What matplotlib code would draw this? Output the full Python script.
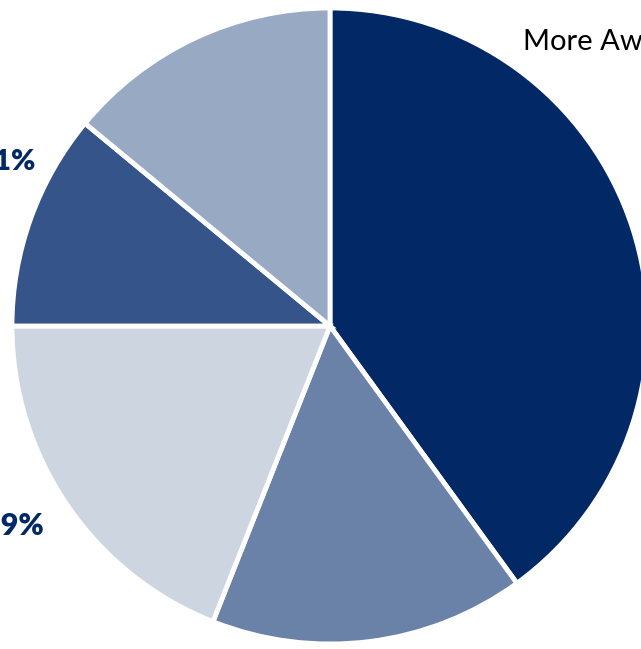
import matplotlib
matplotlib.use('Agg')
import matplotlib.pyplot as plt

# awareness shares, clockwise from 12 o'clock
groups = ['More Aware', 'Somewhat More Aware', 'Neutral', 'Somewhat Less Aware', 'Less Aware']
shares = [40, 16, 19, 11, 14]
colors = ['#022865', '#6a82a8', '#cdd5e1', '#34548a', '#98a9c4']

plt.rcParams['font.family'] = ['Lato', 'DejaVu Sans']

fig = plt.figure(figsize=(6.41, 6.49), dpi=100)
ax = fig.add_axes([0, 0, 1, 1])
ax.axis('off')

ax.pie(shares, colors=colors, startangle=90, counterclock=False,
       center=(330, 323), radius=318,
       wedgeprops=dict(edgecolor='white', linewidth=3.5))
ax.set_xlim(0, 641)
ax.set_ylim(0, 649)
ax.set_aspect('equal')

# labels sit outside the pie, partly off the visible area
ax.text(523, 599, groups[0], fontsize=21, color='black', va='baseline')
ax.text(36, 479, f'{shares[3]}%', fontsize=21, fontweight='heavy',
        color='#022865', ha='right', va='baseline')
ax.text(44, 114, f'{shares[2]}%', fontsize=22, fontweight='heavy',
        color='#022865', ha='right', va='baseline')
top = ax.text(5, 650, 'Somewhat Less', fontsize=19, color='#7f7f7f', va='baseline')
ax.annotate(f'  {shares[4]}%', xy=(1, 0), xycoords=top, fontsize=19,
            fontweight='heavy', color='#6a82a8', va='bottom')

fig.savefig('out.png', dpi=100)
